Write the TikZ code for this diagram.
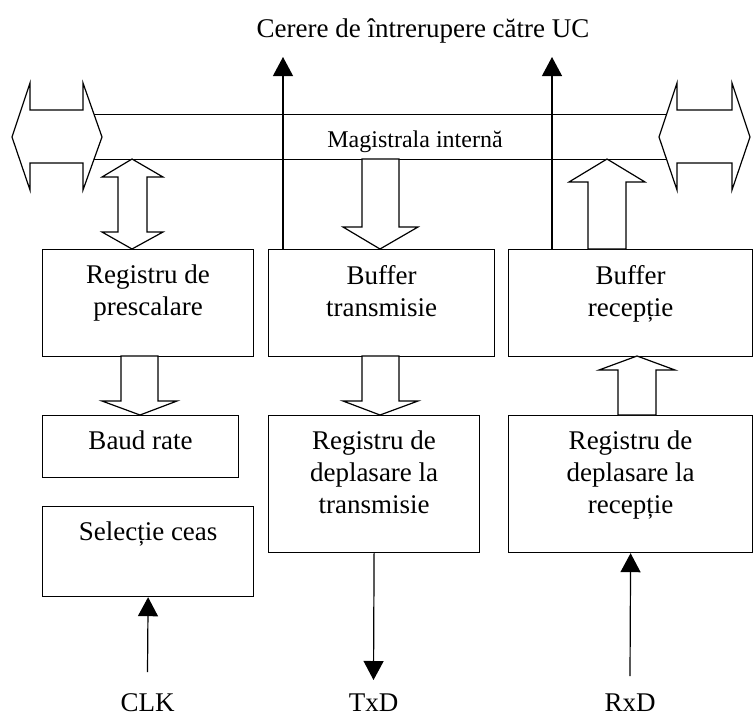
\documentclass[tikz,border=0pt]{standalone}
\usepackage{fontspec}
\setmainfont{Liberation Serif}
\usetikzlibrary{arrows.meta}

\begin{document}
\begin{tikzpicture}
  [x=1pt, y=-1pt, >={Triangle[length=19pt,width=20pt]},
   blk/.style={draw, line width=1.2pt, inner sep=0pt, anchor=north west},
   txt/.style={anchor=north, inner sep=0pt, align=center, font=\fontsize{27}{32}\selectfont},
   lbl/.style={anchor=base, inner sep=0pt, font=\fontsize{27}{32}\selectfont},
   sig/.style={line width=1.2pt},
   fat/.style={draw, line width=1.2pt, fill=white, line join=miter}]
  \useasboundingbox (0,0) rectangle (755,716);

  % internal bus
  \draw[line width=1pt] (94,114) -- (667,114);
  \draw[line width=1pt] (94,159) -- (667,159);
  \draw[fat] (12,137) -- (30,83) -- (30,110) -- (83,110) -- (83,83) -- (102,137)
    -- (83,190) -- (83,163) -- (30,163) -- (30,190) -- cycle;
  \draw[fat] (659,137) -- (677,83) -- (677,110) -- (732,110) -- (732,83) -- (750,137)
    -- (732,190) -- (732,163) -- (677,163) -- (677,190) -- cycle;
  \node[anchor=base, inner sep=0pt, font=\fontsize{24}{28}\selectfont] (bus) at (415,147) {Magistrala internă};

  % blocks
  \node[blk, minimum width=211pt, minimum height=107pt] (presc) at (42,249) {};
  \node[blk, minimum width=226pt, minimum height=107pt] (buftx) at (268,249) {};
  \node[blk, minimum width=244pt, minimum height=107pt] (bufrx) at (508,249) {};
  \node[blk, minimum width=196pt, minimum height=62pt] (baud) at (42,415) {};
  \node[blk, minimum width=211pt, minimum height=137pt] (regtx) at (268,415) {};
  \node[blk, minimum width=244pt, minimum height=137pt] (regrx) at (508,415) {};
  \node[blk, minimum width=211pt, minimum height=90pt] (selclk) at (42,506) {};

  \node[txt] (presc-t) at ([yshift=-16pt]presc.north) {Registru de\\prescalare};
  \node[txt] (buftx-t) at ([yshift=-16pt]buftx.north) {Buffer\\transmisie};
  \node[txt] (bufrx-t) at ([yshift=-16pt]bufrx.north) {Buffer\\recepție};
  \node[txt] (baud-t) at ([yshift=-16pt]baud.north) {Baud rate};
  \node[txt] (regtx-t) at ([yshift=-16pt]regtx.north) {Registru de\\deplasare la\\transmisie};
  \node[txt] (regrx-t) at ([yshift=-16pt]regrx.north) {Registru de\\deplasare la\\recepție};
  \node[txt] (selclk-t) at ([yshift=-16pt]selclk.north) {Selecție ceas};

  % data paths
  \draw[fat] (132,159) -- (163,177) -- (147,177) -- (147,232) -- (163,232) -- (132,249)
    -- (102,232) -- (118,232) -- (118,177) -- (102,177) -- cycle;
  \draw[fat] (362,159) -- (399,159) -- (399,227) -- (418,227) -- (380,249) -- (343,227)
    -- (362,227) -- cycle;
  \draw[fat] (588,249) -- (626,249) -- (626,182) -- (645,182) -- (607,159) -- (569,182)
    -- (588,182) -- cycle;
  \draw[fat] (121,356) -- (158,356) -- (158,401) -- (177,401) -- (140,415) -- (102,401)
    -- (121,401) -- cycle;
  \draw[fat] (362,356) -- (399,356) -- (399,401) -- (418,401) -- (380,415) -- (343,401)
    -- (362,401) -- cycle;
  \draw[fat] (618,415) -- (656,415) -- (656,370) -- (675,370) -- (637,356) -- (599,370)
    -- (618,370) -- cycle;

  % interrupt requests
  \coordinate (irqL) at (283,57);
  \coordinate (irqR) at (552,57);
  \draw[sig,->] (buftx.north -| irqL) -- (irqL);
  \draw[sig,->] (bufrx.north -| irqR) -- (irqR);
  \node[lbl] (irq) at (423,37) {Cerere de întrerupere către UC};

  % external signals
  \coordinate (clk) at (147.5,672);
  \coordinate (txd) at (373.5,680);
  \coordinate (rxd) at (630,676);
  \draw[sig,->] (clk) -- (selclk.south);
  \draw[sig,->] (regtx.south) -- (txd);
  \draw[sig,->] (rxd) -- (regrx.south);
  \node[lbl] (clk-t) at (147.5,711) {CLK};
  \node[lbl] (txd-t) at (373.5,711) {TxD};
  \node[lbl] (rxd-t) at (630,711) {RxD};
\end{tikzpicture}
\end{document}
